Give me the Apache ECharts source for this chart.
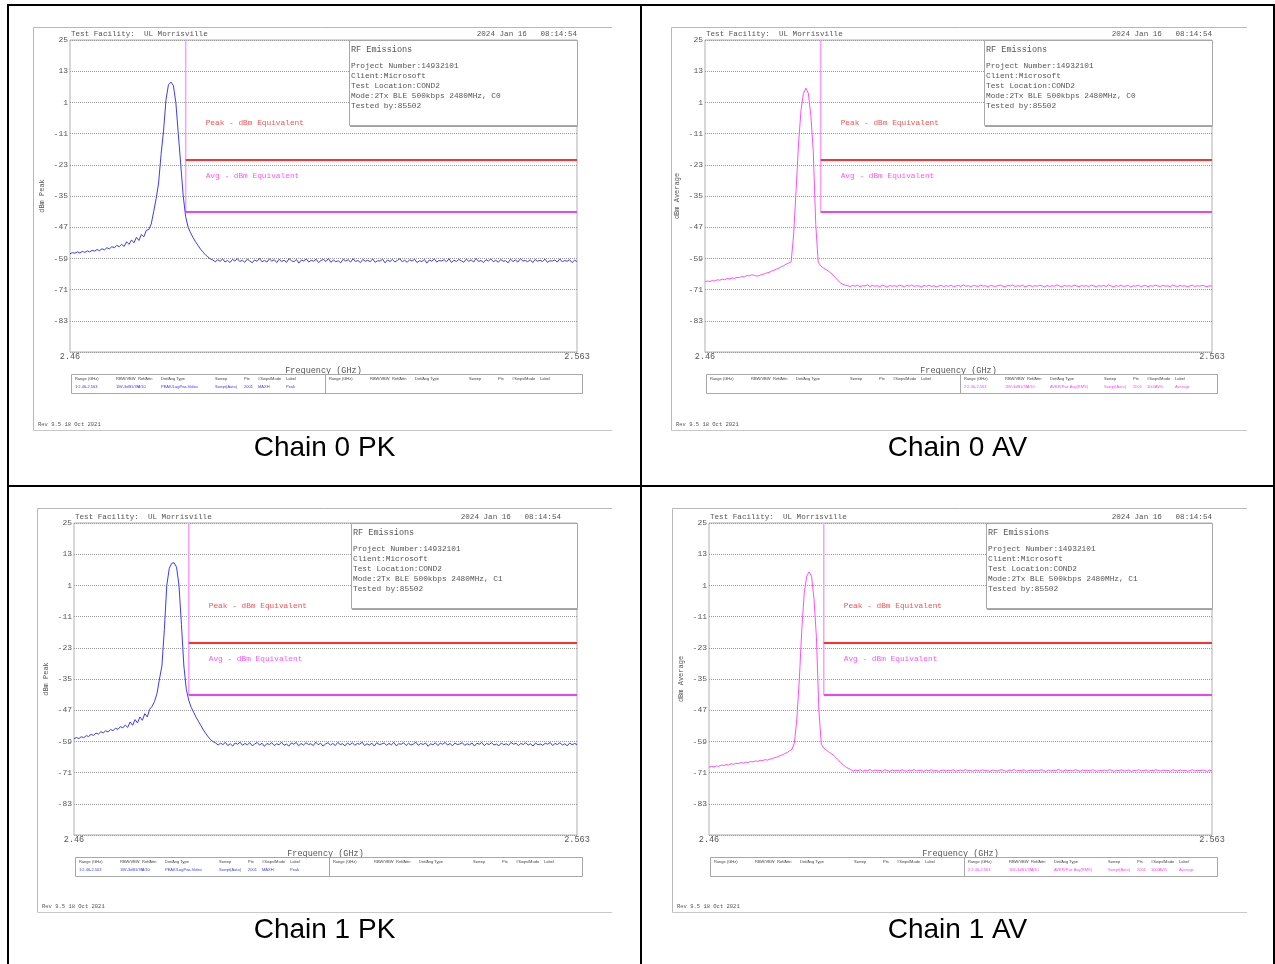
<!DOCTYPE html>
<html><head><meta charset="utf-8">
<script src="https://cdn.jsdelivr.net/npm/echarts@6/dist/echarts.min.js"></script>
<style>html,body{margin:0;padding:0;background:#fff}#c{width:1275px;height:964px}</style>
</head><body><div id="c"></div><script>
// ---- sweep definition (analyzer: 2.46-2.563 GHz) ----
const sweepStart = 2.46, sweepStep = 0.0005, sweepPoints = 207;
const xTickLabels = [2.46, 2.563];
const yTicks = [25, 13, 1, -11, -23, -35, -47, -59, -71, -83, -95];
const yTickLabels = [25, 13, 1, -11, -23, -35, -47, -59, -71, -83];
const yMin = -95, yMax = 25;
const limitFreq = 2.4835;
const peakLimit = -21.2;
const avgLimit = -41.2;

// ---- Chain 0 peak trace (dBm) ----
const c0pkNear = [-57.2,-56.8,-57.0,-56.5,-56.9,-56.3,-56.7,-56.1,-56.5,-55.9,-56.2,-55.6,-56.0,-55.3,-55.7,-54.9,-55.3,-54.5,-54.9,-54.0,-54.5,-53.6,-54.4,-52.6,-53.6,-51.9,-53.0,-50.9,-52.1,-49.8,-50.7,-48.2,-47.9,-45.8,-41.0,-36.0,-30.0,-19.0,-10.0,2.0,7.8,8.8,7.5,1.0,-11.0,-23.0,-35.0,-43.0,-47.0,-49.2,-51.0,-52.6,-54.0,-55.4,-56.5,-57.6,-58.4,-59.2,-59.6];
const c0pkFloor = [-60.3,-59.5,-60.1,-59.2,-60.4,-59.8,-60.6,-59.4,-60.0,-59.1,
-60.2,-59.7,-60.5,-59.3,-59.9,-60.7,-59.6,-60.1,-59.0,-60.3,
-59.8,-60.4,-59.2,-60.0,-59.5,-60.6,-59.3,-60.2,-59.7,-60.5,
-59.1,-59.9,-60.3,-59.4,-60.8,-59.6,-60.0,-59.2,-60.4,-59.7,
-60.1,-59.3,-60.6,-59.8,-59.4,-60.2,-59.0,-60.5,-59.6,-60.3,
-59.9,-60.7,-59.3,-60.0,-59.5,-60.4,-59.1,-60.2,-59.8,-60.6,
-59.4,-60.1,-59.7,-60.3,-59.2,-60.5,-59.9,-60.0,-59.3,-60.7,
-59.6,-60.2,-59.4,-60.4,-59.8,-59.1,-60.3,-59.7,-60.5,-59.5,
-60.0,-59.3,-60.6,-59.9,-60.2,-59.4,-60.8,-59.6,-60.1,-59.2,
-60.4,-59.8,-60.0,-59.5,-60.3,-59.1,-60.6,-59.7,-60.2,-59.4,
-59.9,-60.5,-59.3,-60.1,-59.6,-60.4,-59.0,-60.2,-59.8,-60.6,
-59.5,-60.0,-59.2,-60.3,-59.7,-60.5,-59.4,-60.1,-59.9,-60.7,
-59.3,-60.2,-59.6,-60.4,-59.1,-60.0,-59.8,-60.3,-59.5,-60.6,
-59.4,-60.1,-59.7,-60.2,-59.3,-60.5,-59.9,-60.0,-59.6,-60.4,
-59.2,-60.3,-59.8,-60.1,-59.5,-60.6,-59.7,-60.2];

// ---- Chain 0 average trace (dBm) ----
const c0avNear = [-68.0,-67.7,-67.9,-67.5,-67.7,-67.2,-67.4,-67.0,-67.2,-66.7,-66.9,-66.5,-66.7,-66.3,-66.4,-66.0,-66.1,-65.6,-65.7,-65.3,-65.5,-65.8,-65.6,-65.2,-65.0,-64.6,-64.4,-63.9,-63.6,-63.1,-62.8,-62.2,-61.8,-61.2,-60.8,-60.3,-50.0,-33.0,-15.0,-2.0,4.5,6.5,4.5,-4.0,-18.0,-46.0,-60.5,-61.9,-62.6,-63.2,-63.8,-64.5,-65.4,-66.4,-67.5,-68.4,-69.0,-69.3,-69.5];
const c0avFloor = [-69.8,-69.4,-69.7,-69.3,-69.9,-69.5,-69.6,-69.2,-69.8,-69.4,
-69.7,-69.5,-69.9,-69.3,-69.6,-70.0,-69.4,-69.7,-69.5,-69.8,
-69.3,-69.6,-69.9,-69.4,-69.7,-69.2,-69.8,-69.5,-69.6,-69.9,
-69.4,-69.7,-69.3,-69.8,-69.5,-70.0,-69.6,-69.4,-69.8,-69.5,
-69.7,-69.3,-69.9,-69.6,-69.4,-69.8,-69.2,-69.7,-69.5,-69.9,
-69.4,-69.6,-69.8,-69.3,-69.7,-69.5,-70.0,-69.4,-69.6,-69.8,
-69.5,-69.3,-69.7,-69.9,-69.4,-69.6,-69.2,-69.8,-69.5,-69.7,
-69.3,-69.9,-69.6,-69.4,-69.8,-69.5,-69.7,-69.3,-69.6,-70.0,
-69.4,-69.8,-69.5,-69.7,-69.2,-69.6,-69.9,-69.4,-69.7,-69.5,
-69.8,-69.3,-69.6,-69.9,-69.4,-69.7,-69.5,-69.8,-69.3,-69.6,
-69.9,-69.5,-69.7,-69.4,-69.8,-69.2,-69.6,-69.9,-69.5,-69.7,
-69.3,-69.8,-69.6,-69.4,-70.0,-69.5,-69.7,-69.3,-69.8,-69.6,
-69.4,-69.9,-69.5,-69.7,-69.3,-69.6,-69.8,-69.4,-69.7,-69.5,
-69.9,-69.3,-69.6,-69.8,-69.4,-69.7,-69.5,-69.9,-69.6,-69.3,
-69.8,-69.5,-69.7,-69.4,-69.6,-69.9,-69.5,-69.7];

// ---- Chain 1 peak trace (dBm) ----
const c1pkNear = [-58.0,-57.5,-57.9,-57.2,-57.6,-56.8,-57.1,-56.3,-56.7,-55.8,-56.2,-55.3,-55.7,-54.9,-55.4,-54.4,-54.9,-53.9,-54.4,-53.3,-53.8,-52.7,-53.6,-51.5,-52.8,-50.6,-51.9,-49.6,-50.9,-48.3,-49.6,-46.6,-45.5,-43.6,-40.5,-35.0,-30.0,-16.0,1.0,7.5,9.5,9.7,8.0,1.0,-14.0,-30.0,-39.0,-43.2,-45.9,-47.8,-49.7,-51.3,-53.0,-54.6,-56.0,-57.3,-58.4,-59.1,-59.6];
const c1pkFloor = [-60.4,-59.7,-60.2,-59.4,-60.6,-59.9,-60.8,-59.6,-60.1,-59.3,
-60.5,-59.8,-60.3,-59.5,-60.7,-60.0,-59.4,-60.4,-59.7,-60.9,
-59.8,-60.2,-59.5,-60.6,-59.9,-60.3,-59.3,-60.5,-60.0,-60.8,
-59.6,-60.1,-59.4,-60.7,-59.8,-60.4,-59.5,-60.2,-59.9,-60.6,
-59.3,-60.3,-59.7,-60.8,-60.0,-59.5,-60.4,-59.8,-60.6,-59.4,
-60.2,-59.9,-60.7,-59.6,-60.3,-59.5,-60.5,-59.8,-60.1,-59.3,
-60.6,-59.9,-60.4,-59.7,-60.8,-59.5,-60.2,-60.0,-59.6,-60.5,
-59.8,-60.3,-59.4,-60.7,-59.9,-60.1,-59.5,-60.6,-59.7,-60.4,
-60.0,-59.3,-60.5,-59.8,-60.2,-59.6,-60.9,-59.9,-60.3,-59.5,
-60.6,-59.7,-60.1,-59.4,-60.4,-59.8,-60.7,-59.6,-60.2,-60.0,
-59.5,-60.5,-59.9,-60.3,-59.6,-60.8,-59.7,-60.1,-59.4,-60.6,
-59.8,-60.2,-59.5,-60.4,-60.0,-60.7,-59.6,-60.3,-59.9,-60.5,
-59.4,-60.1,-59.7,-60.6,-59.8,-60.2,-59.5,-60.4,-59.9,-60.8,
-59.6,-60.3,-60.0,-60.5,-59.7,-60.1,-59.4,-60.6,-59.8,-60.2,
-59.5,-60.4,-59.9,-60.7,-59.6,-60.3,-59.8,-60.2];

// ---- Chain 1 average trace (dBm) ----
const c1avNear = [-68.9,-68.6,-68.8,-68.4,-68.6,-68.1,-68.3,-67.9,-68.1,-67.6,-67.8,-67.4,-67.6,-67.1,-67.4,-67.0,-67.1,-66.7,-66.9,-66.5,-66.7,-66.3,-66.4,-66.0,-66.2,-65.8,-65.6,-65.2,-65.0,-64.5,-64.2,-63.7,-63.3,-62.6,-62.0,-59.5,-50.0,-35.0,-16.0,-2.0,4.5,6.2,4.5,-4.0,-19.0,-47.0,-60.2,-61.5,-62.3,-63.0,-63.7,-64.3,-65.2,-66.2,-67.2,-68.1,-68.8,-69.4,-69.8];
const c1avFloor = [-70.4,-70.0,-70.3,-69.9,-70.5,-70.1,-70.2,-69.8,-70.4,-70.0,
-70.3,-70.1,-70.5,-69.9,-70.2,-70.6,-70.0,-70.3,-70.1,-70.4,
-69.9,-70.2,-70.5,-70.0,-70.3,-69.8,-70.4,-70.1,-70.2,-70.5,
-70.0,-70.3,-69.9,-70.4,-70.1,-70.6,-70.2,-70.0,-70.4,-70.1,
-70.3,-69.9,-70.5,-70.2,-70.0,-70.4,-69.8,-70.3,-70.1,-70.5,
-70.0,-70.2,-70.4,-69.9,-70.3,-70.1,-70.6,-70.0,-70.2,-70.4,
-70.1,-69.9,-70.3,-70.5,-70.0,-70.2,-69.8,-70.4,-70.1,-70.3,
-69.9,-70.5,-70.2,-70.0,-70.4,-70.1,-70.3,-69.9,-70.2,-70.6,
-70.0,-70.4,-70.1,-70.3,-69.8,-70.2,-70.5,-70.0,-70.3,-70.1,
-70.4,-69.9,-70.2,-70.5,-70.0,-70.3,-70.1,-70.4,-69.9,-70.2,
-70.5,-70.1,-70.3,-70.0,-70.4,-69.8,-70.2,-70.5,-70.1,-70.3,
-69.9,-70.4,-70.2,-70.0,-70.6,-70.1,-70.3,-69.9,-70.4,-70.2,
-70.0,-70.5,-70.1,-70.3,-69.9,-70.2,-70.4,-70.0,-70.3,-70.1,
-70.5,-69.9,-70.2,-70.4,-70.0,-70.3,-70.1,-70.5,-70.2,-69.9,
-70.4,-70.1,-70.3,-70.0,-70.2,-70.5,-70.1,-70.3];

const c0pk = c0pkNear.concat(c0pkFloor);
const c0av = c0avNear.concat(c0avFloor);
const c1pk = c1pkNear.concat(c1pkFloor);
const c1av = c1avNear.concat(c1avFloor);

const infoLines = ['Project Number:14932101', 'Client:Microsoft', 'Test Location:COND2'];
const tableHeaders = ['Range (GHz)','RBW/VBW','Ref/Attn','Det/Avg Type','Sweep','Pts','#Swps/Mode','Label'];
const pkRow = ['1:2.46-2.563','1M/-3dB1/3M','0/10','PEAK/LogPwr-Video','Swept(Auto)','2001','MAXH','Peak'];
const avRow = ['2:2.46-2.563','1M/-3dB1/3M','0/10','AVER/Pwr Avg(RMS)','Swept(Auto)','2001','100/AVG','Average'];

// ---- layout ----
const PK_COLOR = '#3b3bff', AV_COLOR = '#ff4dff';
const panels = [
  {trace:c0pk, det:'pk', yname:'dBm Peak', caption:'Chain 0 PK', mode:'C0',
   g:{l:70,t:40,w:507,h:312}, f:{l:33,t:27,r:612,b:430}, box:{l:349,t:40,r:577,b:125}, dateR:577, capX:324.5, capY:448},
  {trace:c0av, det:'av', yname:'dBm Average', caption:'Chain 0 AV', mode:'C0',
   g:{l:705,t:40,w:507,h:312}, f:{l:671,t:27,r:1247,b:430}, box:{l:984,t:40,r:1212,b:125}, dateR:1212, capX:957.5, capY:448},
  {trace:c1pk, det:'pk', yname:'dBm Peak', caption:'Chain 1 PK', mode:'C1',
   g:{l:74,t:523,w:503,h:312}, f:{l:37,t:508,r:612,b:912}, box:{l:351,t:523,r:577,b:608}, dateR:561, capX:324.5, capY:930},
  {trace:c1av, det:'av', yname:'dBm Average', caption:'Chain 1 AV', mode:'C1',
   g:{l:709,t:523,w:503,h:312}, f:{l:672,t:508,r:1247,b:912}, box:{l:986,t:523,r:1212,b:608}, dateR:1212, capX:957.5, capY:930}
];

const MONO = '"Liberation Mono", "DejaVu Sans Mono", monospace';
const GRAY = '#555';
function txt(x, y, s, size, opt) {
  return Object.assign({type:'text', x:x, y:y, silent:true, z:20,
    style: Object.assign({text:s, fill:GRAY, font: size + 'px ' + MONO,
      align:'left', textAlign:'left', verticalAlign:'middle', textVerticalAlign:'middle'}, opt || {})});
}
function ln(x1, y1, x2, y2, stroke, w, z) {
  return {type:'line', silent:true, z: z || 10, shape:{x1:x1, y1:y1, x2:x2, y2:y2}, style:{stroke:stroke, lineWidth:w || 1}};
}

const grids = [], xAxes = [], yAxes = [], series = [], graphics = [];
const colOffsets = [4, 45, 67, 90, 144, 173, 187, 215];
panels.forEach((p, k) => {
  grids.push({left:p.g.l, top:p.g.t, width:p.g.w, height:p.g.h, show:true, borderColor:'#b0b0b0', borderWidth:1, backgroundColor:'transparent'});
  xAxes.push({type:'value', gridIndex:k, min:sweepStart, max:2.563,
    name:'Frequency (GHz)', nameLocation:'middle', nameGap:14,
    nameTextStyle:{color:GRAY, fontFamily:MONO, fontSize:8.5},
    axisLine:{show:false}, axisTick:{show:false, customValues:xTickLabels}, splitLine:{show:false},
    axisLabel:{customValues:xTickLabels, color:GRAY, fontFamily:MONO, fontSize:8.5, margin:0,
      formatter: v => String(v)}});
  yAxes.push({type:'value', gridIndex:k, min:yMin, max:yMax,
    name:p.yname, nameLocation:'middle', nameRotate:90, nameGap:24,
    nameTextStyle:{color:GRAY, fontFamily:MONO, fontSize:7},
    axisLine:{show:false}, axisTick:{show:false, customValues:yTicks},
    splitLine:{show:true, lineStyle:{color:'#9a9a9a', type:'dotted', width:1}},
    axisLabel:{customValues:yTickLabels, color:GRAY, fontFamily:MONO, fontSize:8, margin:2}});
  const data = p.trace.map((v, i) => [+(sweepStart + i * sweepStep).toFixed(4), v]);
  const base = {type:'line', xAxisIndex:k, yAxisIndex:k, showSymbol:false, symbol:'none', silent:true, animation:false};
  series.push(Object.assign({}, base, {data:[[limitFreq, yMax], [limitFreq, avgLimit]], z:3,
    lineStyle:{color:'#ff9cff', width:1.5}}));
  series.push(Object.assign({}, base, {data:[[limitFreq, peakLimit], [2.563, peakLimit]], z:3,
    lineStyle:{color:'#ff3030', width:2}}));
  series.push(Object.assign({}, base, {data:[[limitFreq, avgLimit], [2.563, avgLimit]], z:3,
    lineStyle:{color:'#ee44ee', width:2}}));
  series.push(Object.assign({}, base, {data:data, z:4,
    lineStyle:{color: p.det === 'pk' ? PK_COLOR : AV_COLOR, width:1}}));

  const gr = p.g.l + p.g.w, gb = p.g.t + p.g.h;
  graphics.push(ln(p.f.l + 0.5, p.f.t + 0.5, p.f.r, p.f.t + 0.5, '#b8b8b8', 1));
  graphics.push(ln(p.f.l + 0.5, p.f.t + 0.5, p.f.l + 0.5, p.f.b + 0.5, '#b8b8b8', 1));
  graphics.push(ln(p.f.l + 0.5, p.f.b + 0.5, p.f.r, p.f.b + 0.5, '#c8c8c8', 1));
  graphics.push(txt(p.f.l + 5, p.f.b - 5, 'Rev 9.5 18 Oct 2021', 5.5));
  graphics.push(txt(p.g.l + 1, p.g.t - 6, 'Test Facility:  UL Morrisville', 7.6));
  graphics.push(txt(p.dateR, p.g.t - 6, '2024 Jan 16   08:14:54', 7.6, {align:'right', textAlign:'right'}));
  graphics.push({type:'rect', silent:true, z:12, shape:{x:p.box.l + 0.5, y:p.box.t + 0.5, width:p.box.r - p.box.l, height:p.box.b - p.box.t},
    style:{fill:'#fff', stroke:'#a8a8a8', lineWidth:1}});
  graphics.push(ln(p.box.l + 1, p.box.b + 1.5, p.box.r + 0.5, p.box.b + 1.5, '#a0a0a0', 1.2, 13));
  graphics.push(txt(p.box.l + 2, p.box.t + 10, 'RF Emissions', 8.5));
  const lines = infoLines.concat(['Mode:2Tx BLE 500kbps 2480MHz, ' + p.mode, 'Tested by:85502']);
  lines.forEach((s, j) => graphics.push(txt(p.box.l + 2, p.box.t + 25.5 + j * 10, s, 7.8)));
  const vx = p.g.l + (limitFreq - sweepStart) / (2.563 - sweepStart) * p.g.w;
  graphics.push(txt(vx + 20, p.g.t + 83, 'Peak - dBm Equivalent', 7.8, {fill:'#ff5050'}));
  graphics.push(txt(vx + 20, p.g.t + 136, 'Avg - dBm Equivalent', 7.8, {fill:'#ff55ff'}));
  const tl = p.g.l + 1, tt = gb + 22, tr = gr + 5;
  graphics.push({type:'rect', silent:true, z:10, shape:{x:tl + 0.5, y:tt + 0.5, width:tr - tl, height:19}, style:{fill:'none', stroke:'#a8a8a8', lineWidth:1}});
  graphics.push(ln(tl + 254.5, tt + 0.5, tl + 254.5, tt + 19.5, '#a8a8a8', 1));
  [0, 1].forEach(h => {
    tableHeaders.forEach((s, j) => graphics.push(txt(tl + h * 254 + colOffsets[j], tt + 4.5, s, 4, {font:'4px "Liberation Sans", sans-serif', fill:'#444'})));
  });
  const row = p.det === 'pk' ? pkRow : avRow;
  const rowOff = p.det === 'pk' ? 0 : 254;
  const rowColor = p.det === 'pk' ? '#3b3bff' : '#ff44ff';
  row.forEach((s, j) => graphics.push(txt(tl + rowOff + colOffsets[j], tt + 12.5, s, 4, {font:'4px "Liberation Sans", sans-serif', fill:rowColor})));
  graphics.push(txt(p.capX, p.capY, p.caption, 28, {font:'28px "Liberation Sans", Arial, sans-serif', fill:'#000', align:'center', textAlign:'center'}));
});
graphics.push({type:'rect', silent:true, z:30, shape:{x:8, y:5, width:1266, height:960}, style:{fill:'none', stroke:'#000', lineWidth:2}});
graphics.push(ln(641, 5, 641, 964, '#000', 2, 30));
graphics.push(ln(8, 486, 1274, 486, '#000', 2, 30));

const chart = echarts.init(document.getElementById('c'), null, {renderer:'canvas'});
chart.setOption({
  animation:false,
  backgroundColor:'#fff',
  grid:grids, xAxis:xAxes, yAxis:yAxes, series:series,
  graphic:{elements:graphics}
});
</script></body></html>
